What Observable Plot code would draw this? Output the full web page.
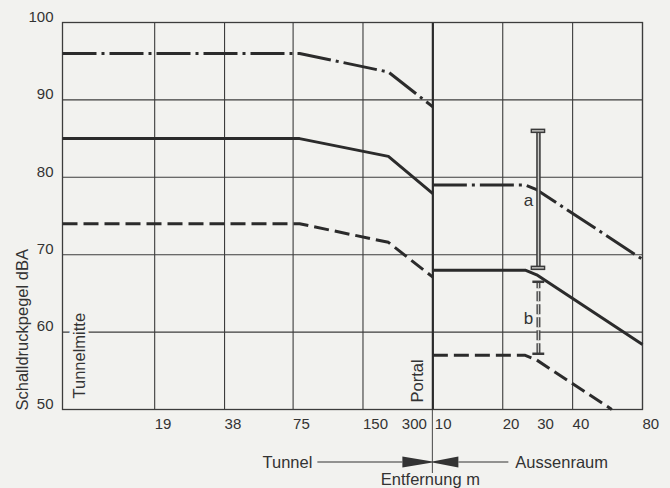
<!DOCTYPE html>
<html><head><meta charset="utf-8">
<script src="https://cdn.jsdelivr.net/npm/d3@7"></script>
<script src="https://cdn.jsdelivr.net/npm/@observablehq/plot@0.6"></script>
<style>
html,body{margin:0;padding:0;background:#f2f2ef;}
#chart{width:670px;height:488px;overflow:hidden;}
</style></head><body><div id="chart"></div>
<script>
// ---- data ----
const yTicks = [50, 60, 70, 80, 90, 100];
const tunnelTickLabels = [19, 38, 75, 150, 300];   // m, tunnel side
const outsideTickLabels = [10, 20, 30, 40, 80];    // m, outside (Aussenraum)
const tunnelGrid = [19, 38, 75, 150];
const outsideGrid = [20, 40, 80];

const tunnelDist = [0, 80, 193, 300];              // 0 = Tunnelmitte
const tunnelDashDot = [96, 96, 93.6, 89.1];
const tunnelSolid = [85, 85, 82.7, 77.9];
const tunnelDashed = [74, 74, 71.6, 67.1];

const outsideDist = [10, 25, 28, 80];
const outsideDashDot = [79, 79, 78.4, 69.4];
const outsideSolid = [68, 68, 67.4, 58.4];
const outsideDashedDist = [10, 25, 28, 59];
const outsideDashed = [57, 57, 56.4, 50];

const barDist = 28.5;            // m, outside
const barA = [86, 68.3];
const barB = [66.5, 57.2];
const labelAy = 77, labelBy = 61.8;

// ---- position helper: octave (doubling) spacing on both sides of the portal ----
const MID = -5.3; // Tunnelmitte at left edge
const pos = (side, d) => side === "tunnel" ? (d === 0 ? MID : Math.log2(d / 300)) : Math.log2(d / 10);

const rows = (side, dists, vals) => dists.map((d, i) => ({u: pos(side, d), db: vals[i]}));
const dd = [rows("tunnel", tunnelDist, tunnelDashDot), rows("out", outsideDist, outsideDashDot)];
const so = [rows("tunnel", tunnelDist, tunnelSolid), rows("out", outsideDist, outsideSolid)];
const da = [rows("tunnel", tunnelDist, tunnelDashed), rows("out", outsideDashedDist, outsideDashed)];

const gridU = [...tunnelGrid.map(d => pos("tunnel", d)), ...outsideGrid.map(d => pos("out", d))];
// tick labels: start-anchored at grid lines; 300 ends at the portal; 30 (no grid line) centred
const tickStart = [
  ...tunnelTickLabels.filter(d => d !== 300).map(d => ({u: pos("tunnel", d), t: String(d)})),
  ...outsideTickLabels.filter(d => d !== 10 && d !== 30).map(d => ({u: pos("out", d), t: String(d)}))
];
const tickEndPortal = tunnelTickLabels.filter(d => d === 300).map(d => ({u: pos("tunnel", d), t: String(d)}));
const tickStartPortal = outsideTickLabels.filter(d => d === 10).map(d => ({u: pos("out", d), t: String(d)}));
const tickMiddle = outsideTickLabels.filter(d => d === 30).map(d => ({u: pos("out", d), t: String(d)}));

const ink = "#2b2b2b", grid = "#3c3c3c", bg = "#f2f2ef", txt = "#333";
const font = "'Liberation Sans', Arial, Helvetica, sans-serif";
const bu = pos("out", barDist);
const capW = 0.105;

const lineOpts = (dash) => ({x: "u", y: "db", stroke: ink, strokeWidth: 3, strokeLinecap: "butt", strokeLinejoin: "round", strokeDasharray: dash});
const tickOpts = (anchor, dx) => ({x: "u", text: "t", textAnchor: anchor, frameAnchor: "bottom", dx, dy: 19, fontSize: 15, fill: txt});

const plot = Plot.plot({
  width: 670, height: 488,
  marginLeft: 62, marginRight: 28, marginTop: 22, marginBottom: 79,
  x: {type: "linear", domain: [MID, pos("out", 80)], axis: null},
  y: {domain: [50, 100], axis: null},
  style: {background: bg, fontFamily: font, overflow: "visible"},
  marks: [
    Plot.ruleY(yTicks, {stroke: grid, strokeWidth: 1.1}),
    Plot.ruleX(gridU, {stroke: grid, strokeWidth: 1.1}),
    Plot.ruleX([0], {stroke: ink, strokeWidth: 2.2}),
    Plot.frame({stroke: grid, strokeWidth: 1.3}),
    // halo for Tunnelmitte (interrupts the 60 grid line as in the original)
    Plot.text(["Tunnelmitte"], {frameAnchor: "bottom-left", rotate: -90, textAnchor: "start", dx: 22, dy: -11, fontSize: 16.5, fill: "none", stroke: bg, strokeWidth: 7}),
    // data lines
    ...dd.map(r => Plot.line(r, lineOpts("34,5,3,5"))),
    ...so.map(r => Plot.line(r, lineOpts(null))),
    ...da.map(r => Plot.line(r, lineOpts("15,6"))),
    // bar a (outlined)
    Plot.ruleX([bu], {y1: barA[1], y2: barA[0], stroke: "#3a3a3a", strokeWidth: 4.5}),
    Plot.ruleX([bu], {y1: barA[1], y2: barA[0], stroke: "#c9c9c6", strokeWidth: 1.4}),
    Plot.ruleY(barA, {x1: bu - capW, x2: bu + capW, stroke: "#3a3a3a", strokeWidth: 4.5}),
    Plot.ruleY(barA, {x1: bu - capW + 0.02, x2: bu + capW - 0.02, stroke: "#c9c9c6", strokeWidth: 1.4}),
    // bar b (dashed)
    Plot.ruleX([bu], {y1: barB[1], y2: barB[0], stroke: "#4a4a4a", strokeWidth: 4, strokeDasharray: "10,3"}),
    Plot.ruleX([bu], {y1: barB[1], y2: barB[0], stroke: "#cfcfcc", strokeWidth: 1.2, strokeDasharray: "10,3"}),
    Plot.ruleY(barB, {x1: bu - 0.08, x2: bu + 0.09, stroke: "#3a3a3a", strokeWidth: 2.5}),
    Plot.text(["a"], {x: bu, y: labelAy, dx: -10, fontSize: 17, fill: txt}),
    Plot.text(["b"], {x: bu, y: labelBy, dx: -10, fontSize: 17, fill: txt}),
    // y tick labels
    Plot.text(yTicks, {y: d => d, text: d => String(d), frameAnchor: "left", textAnchor: "end", dx: -9, dy: -5.5, fontSize: 15, fill: txt}),
    // x tick labels
    Plot.text(tickStart, tickOpts("start", 0)),
    Plot.text(tickEndPortal, tickOpts("end", -6)),
    Plot.text(tickStartPortal, tickOpts("start", 2)),
    Plot.text(tickMiddle, tickOpts("middle", 2)),
    // in-plot labels
    Plot.text(["Tunnelmitte"], {frameAnchor: "bottom-left", rotate: -90, textAnchor: "start", dx: 22, dy: -11, fontSize: 16.5, fill: txt}),
    Plot.text(["Portal"], {x: 0, frameAnchor: "bottom", rotate: -90, textAnchor: "start", dx: -10, dy: -7, fontSize: 16.5, fill: txt}),
    Plot.text(["Schalldruckpegel dBA"], {frameAnchor: "bottom-left", rotate: -90, textAnchor: "start", dx: -34.5, dy: 1, fontSize: 16.5, fill: txt})
  ]
});

document.getElementById("chart").appendChild(plot);

// bottom "Tunnel ——▶◀—— Aussenraum / Entfernung m", placed from the portal position of the x scale
const svg = d3.select(plot);
const px = plot.scale("x").apply(0);
const yb = 488 - 79;
const g = svg.append("g").attr("fill", txt).attr("stroke", "none").style("font-family", font);
const ly = yb + 53;
g.append("line").attr("x1", px - 115).attr("x2", px - 30).attr("y1", ly).attr("y2", ly).attr("stroke", txt).attr("stroke-width", 1.2);
g.append("line").attr("x1", px + 26).attr("x2", px + 76).attr("y1", ly).attr("y2", ly).attr("stroke", txt).attr("stroke-width", 1.2);
g.append("path").attr("d", `M${px - 30},${ly - 5.5}L${px - 30},${ly + 5.5}L${px},${ly + 0.6}L${px},${ly - 0.6}Z`).attr("fill", txt);
g.append("path").attr("d", `M${px + 26},${ly - 5.5}L${px + 26},${ly + 5.5}L${px},${ly + 0.6}L${px},${ly - 0.6}Z`).attr("fill", txt);
g.append("line").attr("x1", px).attr("x2", px).attr("y1", yb).attr("y2", yb + 64).attr("stroke", txt).attr("stroke-width", 0.9);
g.append("text").attr("x", px - 120).attr("y", ly).attr("dy", "0.35em").attr("text-anchor", "end").attr("font-size", 16.5).text("Tunnel");
g.append("text").attr("x", px + 83).attr("y", ly).attr("dy", "0.35em").attr("text-anchor", "start").attr("font-size", 16.5).text("Aussenraum");
g.append("text").attr("x", px - 2).attr("y", yb + 70).attr("dy", "0.35em").attr("text-anchor", "middle").attr("font-size", 16.5).text("Entfernung m");
</script>
</body></html>
